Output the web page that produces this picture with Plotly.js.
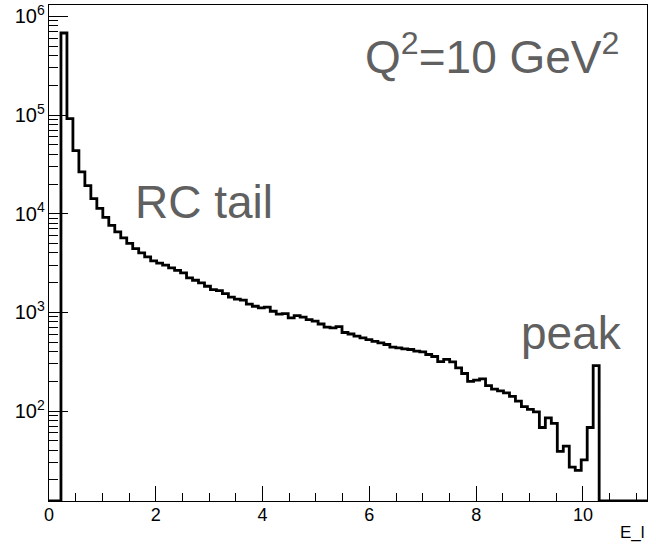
<!DOCTYPE html>
<html>
<head>
<meta charset="utf-8">
<script src="https://cdn.plot.ly/plotly-3.0.1.min.js"></script>
<style>html,body{margin:0;padding:0;background:#fff;}#chart{width:656px;height:545px;}</style>
</head>
<body>
<div id="chart"></div>
<script>
// Histogram definition (ROOT-style TH1, 100 bins)
const nBins = 100;
const binLow = 0;
const binHigh = 11.2;
// bin contents (counts)
const counts = [
  0, 0, 679000, 91900, 43500, 26500, 19300, 14200, 11350, 9190,
  7630, 6540, 5690, 5010, 4430, 4010, 3650, 3325, 3160, 3010,
  2825, 2670, 2515, 2236, 2115, 1990, 1838, 1702, 1663, 1550,
  1429, 1364, 1332, 1214, 1153, 1111, 1132, 1026, 961, 973,
  879, 927, 895, 845, 813, 762, 710, 697, 718, 625,
  603, 573, 552, 530, 509, 491, 472, 445, 437, 427,
  420, 404, 398, 374, 357, 317, 333, 315, 274, 240,
  200, 206, 212, 181, 167, 160, 153, 141, 126, 111,
  104, 98, 68, 85, 75, 39, 44, 27, 25, 32,
  68, 289, 0, 0, 0, 0, 0, 0, 0, 0
];
const xTitle = "E_l";
const labelQ2 = "Q<sup>2</sup>=10 GeV<sup>2</sup>";
const labelTail = "RC tail";
const labelPeak = "peak";

const yLogRange = [1.0877, 6.1156];
const floorVal = Math.pow(10, yLogRange[0]);

// step-line points: left edge of every bin plus the final right edge
const binW = (binHigh - binLow) / nBins;
const xs = [], ys = [];
for (let i = 0; i < nBins; i++) {
  xs.push(binLow + i * binW);
  ys.push(counts[i] > 0 ? counts[i] : floorVal);
}
xs.push(binHigh);
ys.push(counts[nBins - 1] > 0 ? counts[nBins - 1] : floorVal);

const trace = {
  type: 'scatter', mode: 'lines',
  x: xs, y: ys,
  line: {shape: 'hv', color: '#000', width: 2.8},
  hoverinfo: 'skip'
};

const font = 'Liberation Sans, Arial, Helvetica, sans-serif';
const layout = {
  width: 656, height: 545,
  margin: {l: 49, r: 9, t: 5, b: 44},
  paper_bgcolor: '#fff', plot_bgcolor: '#fff',
  showlegend: false,
  font: {family: font, color: '#000'},
  xaxis: {
    range: [binLow, binHigh], tick0: 0, dtick: 2,
    showline: true, mirror: true, linecolor: '#000', linewidth: 1,
    ticks: 'inside', ticklen: 15, tickcolor: '#000', tickwidth: 1,
    showgrid: false, zeroline: false,
    ticklabelstandoff: -3,
    tickfont: {size: 18, family: font, color: '#000'},
    minor: {ticks: 'inside', ticklen: 8, dtick: 0.5, tickcolor: '#000', tickwidth: 1, showgrid: false}
  },
  yaxis: {
    type: 'log', range: yLogRange, dtick: 1,
    exponentformat: 'power',
    showline: true, mirror: true, linecolor: '#000', linewidth: 1,
    ticks: 'inside', ticklen: 19, tickcolor: '#000', tickwidth: 1,
    showgrid: false, zeroline: false,
    tickfont: {size: 16, family: font, color: '#000'},
    minor: {ticks: 'inside', ticklen: 9, dtick: 'D1', tickcolor: '#000', tickwidth: 1, showgrid: false}
  },
  annotations: [
    {text: labelQ2, xref: 'paper', yref: 'paper', x: 0.741, y: 0.902,
     xanchor: 'center', yanchor: 'middle', showarrow: false,
     font: {size: 46, family: font, color: '#606060'}},
    {text: labelTail, xref: 'paper', yref: 'paper', x: 0.259, y: 0.603,
     xanchor: 'center', yanchor: 'middle', showarrow: false,
     font: {size: 46, family: font, color: '#606060'}},
    {text: labelPeak, xref: 'paper', yref: 'paper', x: 0.874, y: 0.338,
     xanchor: 'center', yanchor: 'middle', showarrow: false,
     font: {size: 46, family: font, color: '#606060'}},
    {text: xTitle, xref: 'paper', yref: 'paper', x: 1.0, y: -0.064,
     xanchor: 'right', yanchor: 'middle', showarrow: false,
     font: {size: 17, family: font, color: '#000'}}
  ]
};

Plotly.newPlot('chart', [trace], layout, {displayModeBar: false, staticPlot: true});
</script>
</body>
</html>
